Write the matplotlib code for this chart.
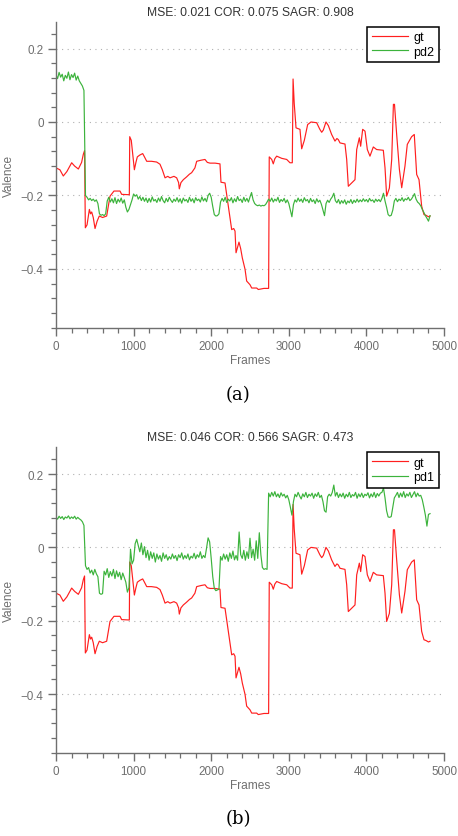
import numpy as np
import matplotlib
matplotlib.use("Agg")
import matplotlib.pyplot as plt
from matplotlib.ticker import MultipleLocator, FixedLocator, FixedFormatter

plt.rcParams['font.family'] = ['Liberation Sans', 'DejaVu Sans']

# ---------------- data ----------------
gt_frames = [0, 50, 94, 140, 202, 240, 288, 330, 352, 368, 378, 400, 430, 445, 460, 480, 503, 530, 558, 600,
             653, 696, 747, 825, 846, 945, 950, 970, 996, 1010, 1030, 1048, 1080, 1117, 1140, 1169, 1230, 1297,
             1340, 1370, 1405, 1440, 1469, 1520, 1555, 1580, 1589, 1610, 1641, 1680, 1720, 1748, 1790, 1813, 1870,
             1920, 1950, 1985, 2050, 2113, 2126, 2178, 2221, 2264, 2290, 2307, 2320, 2358, 2380, 2401, 2436, 2457,
             2500, 2522, 2586, 2607, 2680, 2740, 2748, 2780, 2800, 2820, 2844, 2909, 2973, 3015, 3045, 3055, 3070,
             3093, 3144, 3166, 3200, 3243, 3286, 3359, 3400, 3424, 3445, 3479, 3510, 3552, 3595, 3620, 3638, 3660,
             3724, 3746, 3767, 3810, 3853, 3875, 3909, 3926, 3952, 3982, 4012, 4046, 4089, 4132, 4218, 4240, 4261,
             4296, 4326, 4348, 4362, 4390, 4425, 4455, 4497, 4527, 4583, 4617, 4648, 4678, 4712, 4742, 4768, 4800,
             4820]
gt_values = [-0.125, -0.13, -0.147, -0.135, -0.111, -0.12, -0.128, -0.11, -0.088, -0.078, -0.288, -0.28, -0.238,
             -0.25, -0.245, -0.26, -0.29, -0.27, -0.256, -0.26, -0.256, -0.202, -0.188, -0.188, -0.197, -0.198,
             -0.04, -0.05, -0.102, -0.13, -0.11, -0.095, -0.09, -0.086, -0.095, -0.107, -0.107, -0.109, -0.115,
             -0.13, -0.152, -0.148, -0.152, -0.148, -0.152, -0.165, -0.182, -0.165, -0.157, -0.15, -0.142, -0.138,
             -0.125, -0.107, -0.104, -0.102, -0.11, -0.112, -0.112, -0.114, -0.164, -0.166, -0.229, -0.293, -0.29,
             -0.297, -0.356, -0.327, -0.345, -0.370, -0.401, -0.433, -0.443, -0.452, -0.452, -0.456, -0.453, -0.453,
             -0.095, -0.102, -0.114, -0.1, -0.093, -0.099, -0.102, -0.111, -0.111, 0.117, 0.05, -0.016, -0.02,
             -0.073, -0.05, -0.007, 0.0, -0.002, -0.02, -0.028, -0.022, 0.0, -0.01, -0.034, -0.052, -0.045, -0.048,
             -0.057, -0.06, -0.102, -0.175, -0.166, -0.157, -0.075, -0.043, -0.066, -0.02, -0.025, -0.075, -0.093,
             -0.068, -0.075, -0.077, -0.125, -0.202, -0.18, -0.102, 0.048, 0.048, -0.034, -0.129, -0.179, -0.120,
             -0.061, -0.040, -0.034, -0.143, -0.157, -0.229, -0.252, -0.254, -0.258, -0.256]

pd_frames = list(range(0, 4821, 20))

pd2_values = [
    0.128, 0.118, 0.135, 0.122, 0.130, 0.112, 0.127, 0.119, 0.136, 0.115,
    0.129, 0.121, 0.133, 0.114, 0.125, 0.112, 0.105, 0.098, 0.086, -0.200,
    -0.205, -0.212, -0.208, -0.214, -0.210, -0.216, -0.212, -0.222, -0.250, -0.254,
    -0.252, -0.255, -0.250, -0.215, -0.205, -0.218, -0.209, -0.220, -0.206, -0.222,
    -0.210, -0.218, -0.207, -0.221, -0.212, -0.232, -0.245, -0.238, -0.225, -0.212,
    -0.196, -0.202, -0.198, -0.210, -0.203, -0.214, -0.205, -0.216, -0.207, -0.219,
    -0.208, -0.218, -0.204, -0.215, -0.211, -0.219, -0.207, -0.216, -0.203, -0.214,
    -0.220, -0.208, -0.217, -0.205, -0.213, -0.219, -0.210, -0.216, -0.206, -0.218,
    -0.209, -0.221, -0.207, -0.215, -0.211, -0.219, -0.205, -0.216, -0.209, -0.220,
    -0.206, -0.214, -0.210, -0.218, -0.204, -0.215, -0.208, -0.217, -0.200, -0.194,
    -0.205, -0.230, -0.252, -0.256, -0.255, -0.250, -0.218, -0.208, -0.216, -0.205,
    -0.219, -0.210, -0.215, -0.206, -0.220, -0.209, -0.217, -0.203, -0.214, -0.210,
    -0.219, -0.205, -0.216, -0.208, -0.218, -0.204, -0.192, -0.212, -0.222, -0.226,
    -0.228, -0.226, -0.229, -0.227, -0.228, -0.225, -0.218, -0.210, -0.216, -0.207,
    -0.218, -0.210, -0.215, -0.205, -0.219, -0.211, -0.216, -0.208, -0.220, -0.212,
    -0.222, -0.240, -0.258, -0.225, -0.212, -0.218, -0.207, -0.216, -0.210, -0.219,
    -0.206, -0.215, -0.211, -0.220, -0.208, -0.217, -0.212, -0.222, -0.209, -0.218,
    -0.213, -0.224, -0.240, -0.255, -0.222, -0.213, -0.219, -0.210, -0.204, -0.194,
    -0.214, -0.220, -0.211, -0.223, -0.214, -0.221, -0.212, -0.224, -0.215, -0.220,
    -0.211, -0.222, -0.213, -0.219, -0.210, -0.218, -0.212, -0.217, -0.209, -0.216,
    -0.211, -0.218, -0.208, -0.215, -0.212, -0.219, -0.210, -0.216, -0.211, -0.217,
    -0.208, -0.194, -0.215, -0.232, -0.252, -0.256, -0.254, -0.240, -0.215, -0.208,
    -0.217, -0.210, -0.214, -0.206, -0.216, -0.209, -0.212, -0.205, -0.214, -0.210,
    -0.203, -0.195, -0.210, -0.218, -0.222, -0.228, -0.238, -0.246, -0.255, -0.262,
    -0.270, -0.255]

pd1_values = [
    0.082, 0.077, 0.085, 0.079, 0.084, 0.076, 0.083, 0.080, 0.086, 0.078,
    0.083, 0.079, 0.085, 0.077, 0.082, 0.078, 0.075, 0.070, 0.060, -0.050,
    -0.060, -0.055, -0.070, -0.062, -0.075, -0.060, -0.072, -0.080, -0.125, -0.128,
    -0.126, -0.065, -0.075, -0.058, -0.082, -0.066, -0.078, -0.060, -0.085, -0.064,
    -0.080, -0.068, -0.088, -0.070, -0.082, -0.095, -0.122, -0.110, -0.005, -0.045,
    -0.035, 0.010, 0.022, 0.005, -0.012, 0.012, -0.020, 0.002, -0.028, -0.008,
    -0.035, -0.012, -0.030, -0.015, -0.040, -0.018, -0.032, -0.022, -0.038, -0.015,
    -0.030, -0.020, -0.035, -0.025, -0.032, -0.018, -0.030, -0.022, -0.036, -0.020,
    -0.028, -0.015, -0.032, -0.022, -0.030, -0.018, -0.034, -0.024, -0.029, -0.016,
    -0.031, -0.020, -0.027, -0.012, -0.030, -0.022, -0.028, -0.002, 0.026, 0.015,
    -0.030, -0.080, -0.112, -0.118, -0.116, -0.114, -0.025, -0.035, -0.018, -0.032,
    -0.020, -0.038, -0.015, -0.030, -0.010, -0.034, -0.022, -0.035, 0.042, -0.020,
    -0.030, -0.008, -0.035, -0.012, -0.030, 0.025, -0.028, -0.005, -0.035, 0.018,
    -0.030, 0.040, -0.020, -0.055, -0.060, -0.058, -0.060, 0.148, 0.138, 0.150,
    0.140, 0.152, 0.138, 0.146, 0.136, 0.149, 0.140, 0.145, 0.135, 0.142,
    0.130, 0.110, 0.088, 0.125, 0.145, 0.138, 0.150, 0.140, 0.132, 0.146,
    0.138, 0.150, 0.136, 0.145, 0.140, 0.148, 0.134, 0.146, 0.139, 0.150,
    0.136, 0.142, 0.125, 0.100, 0.096, 0.138, 0.145, 0.140, 0.150, 0.170,
    0.140, 0.150, 0.136, 0.146, 0.138, 0.148, 0.134, 0.145, 0.138, 0.150,
    0.136, 0.144, 0.140, 0.150, 0.134, 0.146, 0.138, 0.148, 0.136, 0.145,
    0.141, 0.149, 0.135, 0.146, 0.138, 0.150, 0.136, 0.147, 0.140, 0.148,
    0.150, 0.162, 0.135, 0.100, 0.083, 0.082, 0.084, 0.110, 0.135, 0.142,
    0.150, 0.136, 0.148, 0.138, 0.152, 0.136, 0.146, 0.140, 0.150, 0.136,
    0.144, 0.152, 0.138, 0.148, 0.140, 0.142, 0.130, 0.110, 0.088, 0.058,
    0.090, 0.092]

titles = ["MSE: 0.021 COR: 0.075 SAGR: 0.908", "MSE: 0.046 COR: 0.566 SAGR: 0.473"]
pd_labels = ["pd2", "pd1"]
pd_series = [pd2_values, pd1_values]
captions = ["(a)", "(b)"]
x_ticks = [0, 1000, 2000, 3000, 4000, 5000]
x_tick_labels = ["0", "1000", "2000", "3000", "4000", "5000"]
y_ticks = [-0.4, -0.2, 0, 0.2]
y_tick_labels = ["\u22120.4", "\u22120.2", "0", "0.2"]

# ---------------- figure ----------------
W, H = 458, 837
fig = plt.figure(figsize=(W / 100, H / 100), dpi=100)
axes_rects = [[56 / W, 1 - 328.7 / H, 388 / W, 306 / H],
              [56 / W, 1 - 753.7 / H, 388 / W, 305.4 / H]]
caption_y = [1 - 395 / H, 1 - 819 / H]

gray = '#6f6f6f'
for k in range(2):
    ax = fig.add_axes(axes_rects[k])
    ax.plot(gt_frames, gt_values, color='#ff1f1f', lw=0.85, label='gt')
    ax.plot(pd_frames, pd_series[k], color='#3cb33c', lw=0.85, label=pd_labels[k])
    ax.set_xlim(0, 5000)
    ax.set_ylim(-0.56, 0.273)
    ax.xaxis.set_major_locator(FixedLocator(x_ticks))
    ax.xaxis.set_major_formatter(FixedFormatter(x_tick_labels))
    ax.yaxis.set_major_locator(FixedLocator(y_ticks))
    ax.yaxis.set_major_formatter(FixedFormatter(y_tick_labels))
    ax.xaxis.set_minor_locator(MultipleLocator(200))
    ax.yaxis.set_minor_locator(MultipleLocator(0.04))
    for s in ['top', 'right']:
        ax.spines[s].set_visible(False)
    for s in ['left', 'bottom']:
        ax.spines[s].set_color(gray)
        ax.spines[s].set_linewidth(1.0)
    ax.tick_params(which='major', direction='out', length=6, width=1.0, color=gray,
                   labelcolor=gray, labelsize=8.4, pad=3)
    ax.tick_params(which='minor', direction='out', length=3.5, width=0.9, color=gray)
    ax.grid(axis='y', which='major', linestyle=(0, (1, 4)), color='#b0b0b0', lw=0.8)
    ax.set_axisbelow(True)
    ax.set_xlabel('Frames', fontsize=8.6, color=gray, labelpad=1.5)
    ax.set_ylabel('Valence', fontsize=8.6, color=gray, labelpad=4)
    ax.set_title(titles[k], fontsize=8.7, color='#333333', pad=5)
    leg = ax.legend(loc='upper right', fontsize=9, fancybox=False, framealpha=1,
                    edgecolor='black', handlelength=2.9, labelspacing=0.22,
                    borderaxespad=0.4, borderpad=0.35, handletextpad=0.45)
    leg.get_frame().set_linewidth(1.1)
    fig.text(0.52, caption_y[k], captions[k], ha='center', va='center',
             family='DejaVu Serif', fontsize=13, color='black')

fig.savefig('out.png', dpi=100)
